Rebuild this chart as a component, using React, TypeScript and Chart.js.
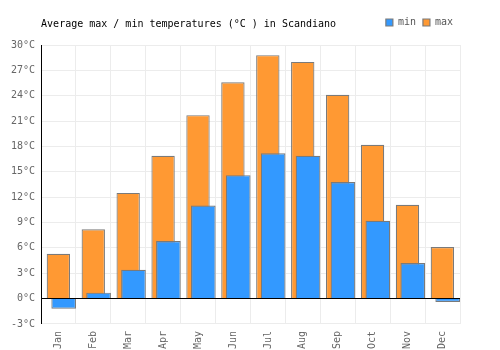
import { useEffect, useRef } from "react";
import { Chart, registerables } from "chart.js";

Chart.register(...registerables);

const months = ["Jan", "Feb", "Mar", "Apr", "May", "Jun", "Jul", "Aug", "Sep", "Oct", "Nov", "Dec"];
const minTemps = [-1.2, 0.7, 3.4, 6.8, 11.0, 14.6, 17.2, 16.9, 13.8, 9.2, 4.2, -0.4];
const maxTemps = [5.3, 8.2, 12.5, 16.9, 21.7, 25.6, 28.8, 28.0, 24.1, 18.2, 11.1, 6.1];
const yMin = -3;
const yMax = 30;
const yStep = 3;
const titleText = "Average max / min temperatures (°C ) in Scandiano";

const FONT = "'DejaVu Sans Mono', monospace";
const BLUE = "#3399ff";
const ORANGE = "#ff9933";
const EDGE = "#7a7a7a";
const GRID = "#ececec";

export default function App() {
  const ref = useRef<HTMLCanvasElement | null>(null);

  useEffect(() => {
    document.body.style.margin = "0";
    const canvas = ref.current;
    if (!canvas) return;
    const chart = new Chart(canvas, {
      type: "bar",
      data: {
        labels: months,
        datasets: [
          {
            label: "min",
            data: minTemps,
            stack: "b",
            backgroundColor: BLUE,
            borderColor: EDGE,
            borderWidth: 1.2,
            inflateAmount: 0,
            categoryPercentage: 0.589,
            barPercentage: 2.4,
            order: 0,
          },
          {
            label: "max",
            data: maxTemps,
            stack: "a",
            backgroundColor: ORANGE,
            borderColor: EDGE,
            borderWidth: 1.2,
            inflateAmount: 0,
            categoryPercentage: 0.02,
            barPercentage: 66.9,
            order: 1,
          },
          {
            label: "_spacer",
            data: [],
            stack: "a",
            order: -1,
          },
        ],
      },
      options: {
        responsive: false,
        animation: false,
        devicePixelRatio: 1,
        layout: { padding: { left: 5, right: 40, top: 10.5, bottom: -6 } },
        plugins: {
          tooltip: { enabled: false },
          legend: {
            display: true,
            position: "top",
            align: "end",
            weight: 2000,
            labels: {
              boxWidth: 7,
              boxHeight: 7,
              padding: 7,
              color: "#555",
              font: { family: FONT, size: 10 },
              filter: (item: any) => item.text !== "_spacer",
            },
          },
          title: {
            display: true,
            text: titleText,
            align: "start",
            position: "top",
            fullSize: false,
            weight: 1000,
            color: "#000",
            font: { family: FONT, size: 10, weight: "normal" },
            padding: { top: -19, bottom: 14.5 },
          },
        },
        scales: {
          x: {
            type: "category",
            offset: true,
            grid: { offset: true, color: GRID, drawTicks: false },
            border: { display: false },
            ticks: {
              color: "#666",
              font: { family: FONT, size: 10 },
              maxRotation: 90,
              minRotation: 90,
              padding: 7,
              autoSkip: false,
            },
          },
          y: {
            min: yMin,
            max: yMax,
            stacked: false,
            grid: {
              drawTicks: false,
              color: (ctx: any) => (ctx.tick && ctx.tick.value === 0 ? "#000" : GRID),
            },
            border: { display: true, color: "#000" },
            ticks: {
              stepSize: yStep,
              color: "#666",
              padding: 6,
              font: { family: FONT, size: 10 },
              callback: (v: any) => `${v}°C`,
            },
          },
        },
      },
    } as any);
    return () => chart.destroy();
  }, []);

  return (
    <div style={{ width: 500, height: 350 }}>
      <canvas ref={ref} width={500} height={350} />
    </div>
  );
}
